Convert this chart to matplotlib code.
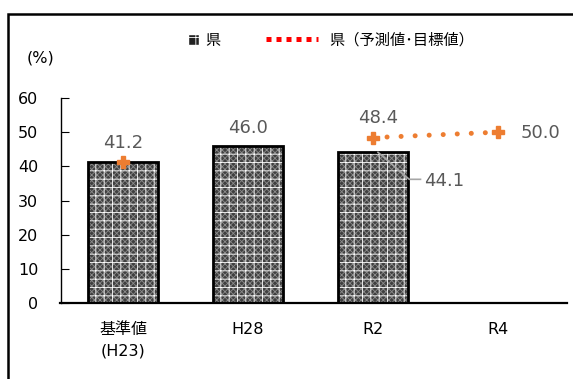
import numpy as np
import matplotlib
matplotlib.use("Agg")
import matplotlib.pyplot as plt
from matplotlib.patches import Rectangle, Patch
from matplotlib.lines import Line2D

plt.rcParams['font.family'] = ['DejaVu Sans', 'Noto Sans CJK JP']

categories = ['基準値\n(H23)', 'H28', 'R2', 'R4']
bar_values = [41.2, 46.0, 44.1, np.nan]
target_values = [41.2, np.nan, 48.4, 50.0]
bar_label = '県'
line_label = '県（予測値･目標値）'

orange = '#ED7D31'
gray = '#595959'
W, H = 573, 379

fig = plt.figure(figsize=(W / 100, H / 100), dpi=100)
ax = fig.add_axes([60.5 / W, 76 / H, (567 - 60.5) / W, 205 / H])

x = np.arange(len(categories))
# textured fill in two layers, then a black outline
plt.rcParams['hatch.linewidth'] = 0.6
ax.bar(x, bar_values, width=0.56, facecolor='#404040', edgecolor='#8c8c8c',
       hatch='xxxxxx', linewidth=0, zorder=2)
ax.bar(x, bar_values, width=0.56, facecolor='none', edgecolor='white',
       hatch='++', linewidth=0, zorder=2)
ax.bar(x, bar_values, width=0.56, facecolor='none', edgecolor='black',
       linewidth=2, zorder=3)

# forecast / target line (round dots) and markers
ax.plot(x, target_values, color=orange, linestyle=(0, (0.01, 2.8)), lw=3.6,
        dash_capstyle='round', zorder=4)
ax.plot(x, target_values, color=orange, linestyle='none', marker='P',
        markersize=8.5, zorder=5)

# data labels
ax.text(0, 46.8, '41.2', ha='center', va='center', fontsize=13, color=gray)
ax.text(1, 51.2, '46.0', ha='center', va='center', fontsize=13, color=gray)
ax.text(2.04, 54.1, '48.4', ha='center', va='center', fontsize=13, color=gray)
ax.text(3.18, 49.8, '50.0', ha='left', va='center', fontsize=13, color=gray)
ax.plot([2.04, 2.29, 2.38], [44.1, 36.2, 36.2], color='#a6a6a6', lw=1.2, zorder=6)
ax.text(2.41, 35.8, '44.1', ha='left', va='center', fontsize=13, color=gray)

ax.set_xlim(-0.5, 3.552)
ax.set_ylim(0, 60)
ax.set_yticks(range(0, 61, 10))
ax.set_xticks(x)
ax.set_xticklabels(categories, fontsize=11.5, linespacing=1.5)
ax.tick_params(axis='x', length=0, pad=14)
ax.tick_params(axis='y', direction='in', length=6, labelsize=11.5, pad=16)
ax.spines['top'].set_visible(False)
ax.spines['right'].set_visible(False)
ax.spines['bottom'].set_linewidth(1.6)
ax.spines['left'].set_linewidth(1)

fig.text(40 / W, 1 - 58 / H, '(%)', ha='center', va='center', fontsize=11.5)

# legend: two pieces so each handle can have its own length
fig.legend([Patch(facecolor='#222222', edgecolor='white', hatch='++')],
           [bar_label], loc='center left',
           bbox_to_anchor=(188 / W, 1 - 40 / H), frameon=False,
           fontsize=11, handlelength=0.7, handleheight=0.7,
           handletextpad=0.4, borderpad=0, borderaxespad=0)
fig.legend([Line2D([0], [0], color='red', linestyle=(0, (1, 1)), lw=3.6)],
           [line_label], loc='center left',
           bbox_to_anchor=(266 / W, 1 - 40 / H), frameon=False,
           fontsize=11, handlelength=3.4, handletextpad=0.75, borderpad=0,
           borderaxespad=0)

# outer frame of the chart area
fig.patches.append(Rectangle((8 / W, -0.1), 1.0, 1.1 - 14 / H,
                             transform=fig.transFigure, fill=False,
                             edgecolor='black', linewidth=1.8))

fig.savefig('out.png', dpi=100)
